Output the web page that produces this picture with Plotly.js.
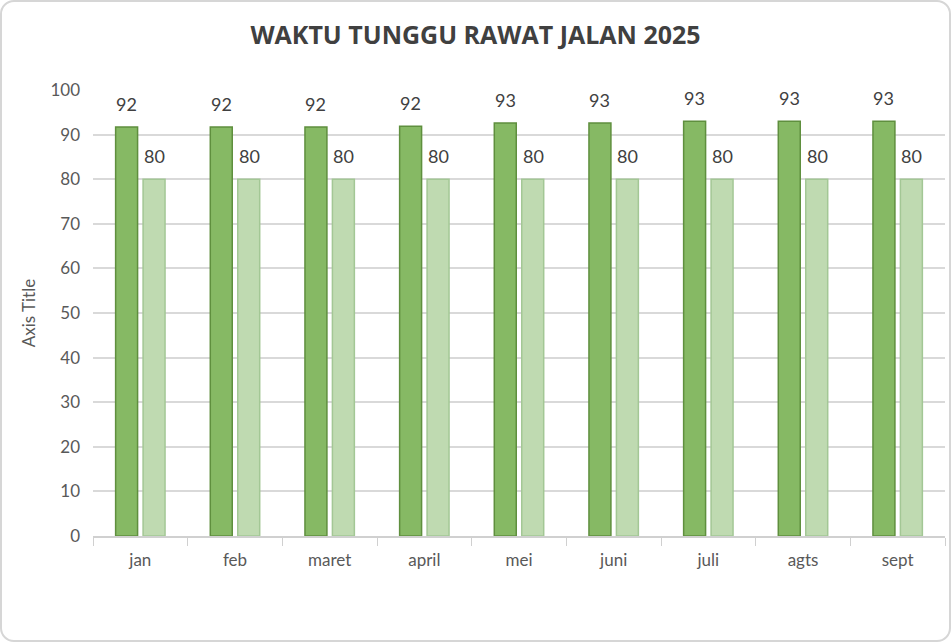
<!DOCTYPE html>
<html>
<head>
<meta charset="utf-8">
<script src="https://cdn.plot.ly/plotly-3.0.1.min.js"></script>
<style>
  html, body { margin: 0; padding: 0; background: #fff; }
  #wrap { position: relative; width: 951px; height: 643px; }
  #myDiv { width: 951px; height: 643px; }
  #frame {
    position: absolute; left: 0; top: 0; width: 947px; height: 638px;
    border: 2px solid #d6d6d6; border-radius: 14px; pointer-events: none;
  }
</style>
</head>
<body>
<div id="wrap">
  <div id="myDiv"></div>
  <div id="frame"></div>
</div>
<script>
var months = ['jan', 'feb', 'maret', 'april', 'mei', 'juni', 'juli', 'agts', 'sept'];
var realisasi = [91.7, 91.7, 91.7, 91.9, 92.6, 92.6, 93.0, 93.0, 93.0];
var target = [80, 80, 80, 80, 80, 80, 80, 80, 80];

var trace1 = {
  x: months,
  y: realisasi,
  type: 'bar',
  name: 'Realisasi',
  marker: {color: '#86b964', line: {color: '#5f8f3e', width: 1.5}},
  hoverinfo: 'x+y'
};
var trace2 = {
  x: months,
  y: target,
  type: 'bar',
  name: 'Target',
  marker: {color: '#bfdab1', line: {color: '#a3c795', width: 1.5}},
  hoverinfo: 'x+y'
};

// value labels sit a little above each bar, like the Excel original
var labels = [];
for (var i = 0; i < months.length; i++) {
  labels.push({x: months[i], y: realisasi[i], text: realisasi[i].toFixed(0),
    xshift: -14, yshift: 23, showarrow: false});
  labels.push({x: months[i], y: target[i], text: target[i].toFixed(0),
    xshift: 14, yshift: 23, showarrow: false});
}

var layout = {
  width: 951,
  height: 643,
  margin: {l: 93, r: 6, t: 90, b: 107},
  paper_bgcolor: 'rgba(0,0,0,0)',
  plot_bgcolor: 'rgba(0,0,0,0)',
  font: {family: 'Lato, "Open Sans", sans-serif', color: '#595959', size: 16},
  title: {
    text: '<b>WAKTU TUNGGU RAWAT JALAN 2025</b>',
    font: {size: 25, color: '#404040', family: '"Open Sans", Lato, sans-serif'},
    x: 0.5, xanchor: 'center', y: 0.945, yanchor: 'middle'
  },
  showlegend: false,
  barmode: 'group',
  bargap: 0.42,
  bargroupgap: 0.2,
  xaxis: {
    showgrid: false,
    showline: true,
    linecolor: '#d0d0d0',
    linewidth: 1.5,
    ticks: 'outside',
    tickson: 'boundaries',
    ticklen: 8,
    tickcolor: '#d0d0d0',
    ticklabelstandoff: 8,
    tickfont: {size: 17, color: '#595959'}
  },
  yaxis: {
    range: [0, 100],
    dtick: 10,
    showgrid: true,
    gridcolor: '#d9d9d9',
    gridwidth: 1.5,
    zeroline: false,
    showline: false,
    ticks: '',
    ticklabelstandoff: 12,
    tickfont: {size: 17, color: '#595959'},
    title: {text: 'Axis Title', font: {size: 17, color: '#595959'}, standoff: 10}
  },
  annotations: labels.map(function (a) {
    a.font = {size: 18, color: '#404040'};
    a.yanchor = 'middle';
    return a;
  })
};

Plotly.newPlot('myDiv', [trace1, trace2], layout, {displayModeBar: false});
</script>
</body>
</html>
